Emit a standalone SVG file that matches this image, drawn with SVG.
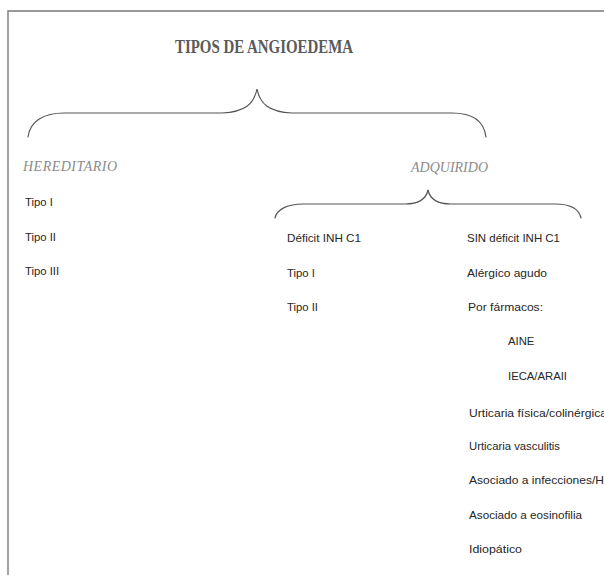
<svg xmlns="http://www.w3.org/2000/svg" width="604" height="575" viewBox="0 0 604 575">
<style>
.bg{fill:#ffffff}
.frame{fill:none;stroke:#7a7a7a;stroke-width:1.4}
.title{font-family:"Liberation Serif","Times New Roman",serif;font-weight:bold;font-size:18px;fill:#5a5a5a}
.cat{font-family:"Liberation Serif","Times New Roman",serif;font-style:italic;font-size:14px;fill:#8c8c8c}
.item{font-family:"Liberation Sans",Arial,sans-serif;font-size:11.3px;fill:#262626}
.brace{fill:none;stroke:#555;stroke-width:1.2;stroke-linecap:round}
</style>
<rect class="bg" x="0" y="0" width="604" height="575"/>
<path class="frame" d="M8,576 L8,11 L605,11"/>
<g id="title"><text class="title" x="175" y="53" textLength="178" lengthAdjust="spacingAndGlyphs">TIPOS DE ANGIOEDEMA</text></g>
<g id="connectors">
<path class="brace" d="M28,137 C30,121 44,113 64,113 L222,113 C245,112 254,104 257,89 C260,104 269,112 292,113 L452,113 C472,113 484,121 486,137"/>
<path class="brace" d="M275,218 C277,209 288,204 303,204 L405,204 C418,204 426,199 428,190 C430,199 438,204 451,204 L555,204 C570,204 579,209 581,218"/>
</g>
<g id="hereditario">
<text class="cat" x="23" y="171" textLength="94" lengthAdjust="spacing">HEREDITARIO</text>
<text class="item" x="25" y="206">Tipo I</text>
<text class="item" x="25" y="241">Tipo II</text>
<text class="item" x="25" y="275">Tipo III</text>
</g>
<g id="adquirido">
<text class="cat" x="411" y="172" textLength="77" lengthAdjust="spacing">ADQUIRIDO</text>
</g>
<g id="deficit">
<text class="item" x="287" y="242" textLength="74" lengthAdjust="spacingAndGlyphs">Déficit INH C1</text>
<text class="item" x="287" y="277">Tipo I</text>
<text class="item" x="287" y="311">Tipo II</text>
</g>
<g id="sin-deficit">
<text class="item" x="467" y="242" textLength="93" lengthAdjust="spacingAndGlyphs">SIN déficit INH C1</text>
<text class="item" x="467" y="277" textLength="80" lengthAdjust="spacingAndGlyphs">Alérgico agudo</text>
<text class="item" x="468" y="311" textLength="75" lengthAdjust="spacingAndGlyphs">Por fármacos:</text>
<text class="item" x="508" y="345">AINE</text>
<text class="item" x="508" y="380">IECA/ARAII</text>
<text class="item" x="469" y="417" textLength="138" lengthAdjust="spacingAndGlyphs">Urticaria física/colinérgica</text>
<text class="item" x="469" y="450" textLength="91" lengthAdjust="spacingAndGlyphs">Urticaria vasculitis</text>
<text class="item" x="469" y="484" textLength="143" lengthAdjust="spacingAndGlyphs">Asociado a infecciones/HP</text>
<text class="item" x="469" y="519" textLength="113" lengthAdjust="spacingAndGlyphs">Asociado a eosinofilia</text>
<text class="item" x="469" y="553" textLength="53" lengthAdjust="spacingAndGlyphs">Idiopático</text>
</g>
</svg>
